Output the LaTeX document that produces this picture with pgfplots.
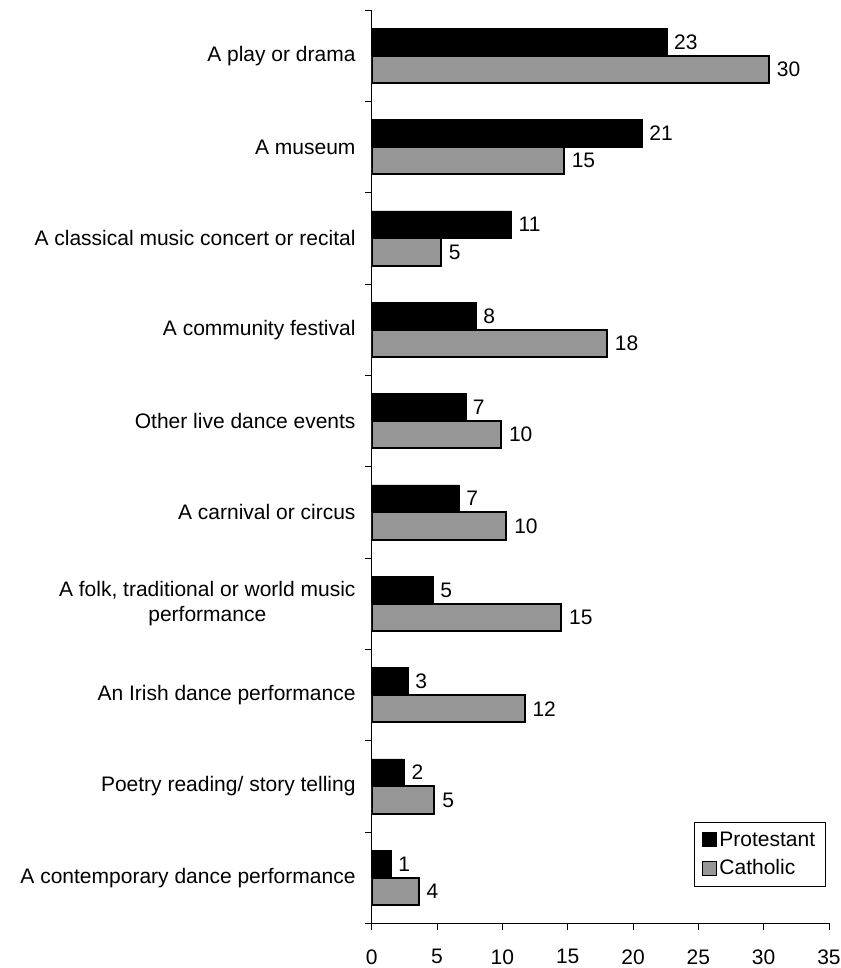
\documentclass[border=0pt]{standalone}
\usepackage{fontspec}
\setmainfont{Liberation Sans}
\usepackage{pgfplots}
\usepackage{pgfplotstable}
\pgfplotsset{compat=1.18}
\definecolor{catgray}{HTML}{969696}
\pgfplotstableread{
y prot plab cath clab
9 22.6 23 30.4 30
8 20.7 21 14.7 15
7 10.7 11 5.3 5
6 8.0 8 18.0 18
5 7.2 7 9.9 10
4 6.7 7 10.3 10
3 4.7 5 14.5 15
2 2.8 3 11.7 12
1 2.5 2 4.8 5
0 1.5 1 3.6 4
}\data
\begin{document}
\begin{tikzpicture}
\begin{axis}[
  name=ax,
  scale only axis,
  width=457.3pt, height=913.3pt,
  xmin=0, xmax=35, ymin=-0.5, ymax=9.5,
  xbar,
  bar width=0.3,
  axis lines*=left,
  axis line style={black, line width=0.8pt},
  font=\fontsize{21}{25}\selectfont,
  /pgf/number format/assume math mode=true,
  xtick={0,5,...,35},
  tick align=outside,
  major tick length=7pt,
  tick style={black, line width=0.8pt},
  xticklabel style={inner sep=0pt, yshift=-19pt},
  ytick={-0.5,0.5,...,9.5},
  yticklabels={},
  extra y ticks={0,...,9},
  extra y tick labels={A contemporary dance performance, Poetry reading/ story telling, An Irish dance performance, {A folk, traditional or world music\\performance}, A carnival or circus, Other live dance events, A community festival, A classical music concert or recital, A museum, A play or drama},
  extra y tick style={major tick length=0pt, tick style={draw=none}},
  yticklabel style={align=center, inner sep=0pt, xshift=-16pt},
  nodes near coords,
  point meta=explicit symbolic,
  every node near coord/.append style={font=\fontsize{21}{25}\selectfont, inner sep=0pt, anchor=west, xshift=7pt},
  legend style={at={(axis cs:34.73,-0.1)}, anchor=south east, draw=black, line width=0.6pt, font=\fontsize{21}{25}\selectfont, inner xsep=8pt, inner ysep=8pt, row sep=8pt, cells={anchor=west, inner xsep=3pt}},
  legend image code/.code={\draw[#1, line width=1pt] (0pt,-7pt) rectangle (14pt,7pt);},
]
\addplot[bar shift=0.15, fill=black, draw=black] table[x=prot, y=y, meta=plab] {\data};
\addlegendentry{Protestant}
\addplot[bar shift=-0.15, fill=catgray, draw=black, line width=2pt] table[x=cath, y=y, meta=clab] {\data};
\addlegendentry{Catholic}
\end{axis}
\pgfresetboundingbox
\path (ax.south west) ++(-371.7pt,-44.7pt) rectangle ++(840pt,968pt);
\end{tikzpicture}
\end{document}
